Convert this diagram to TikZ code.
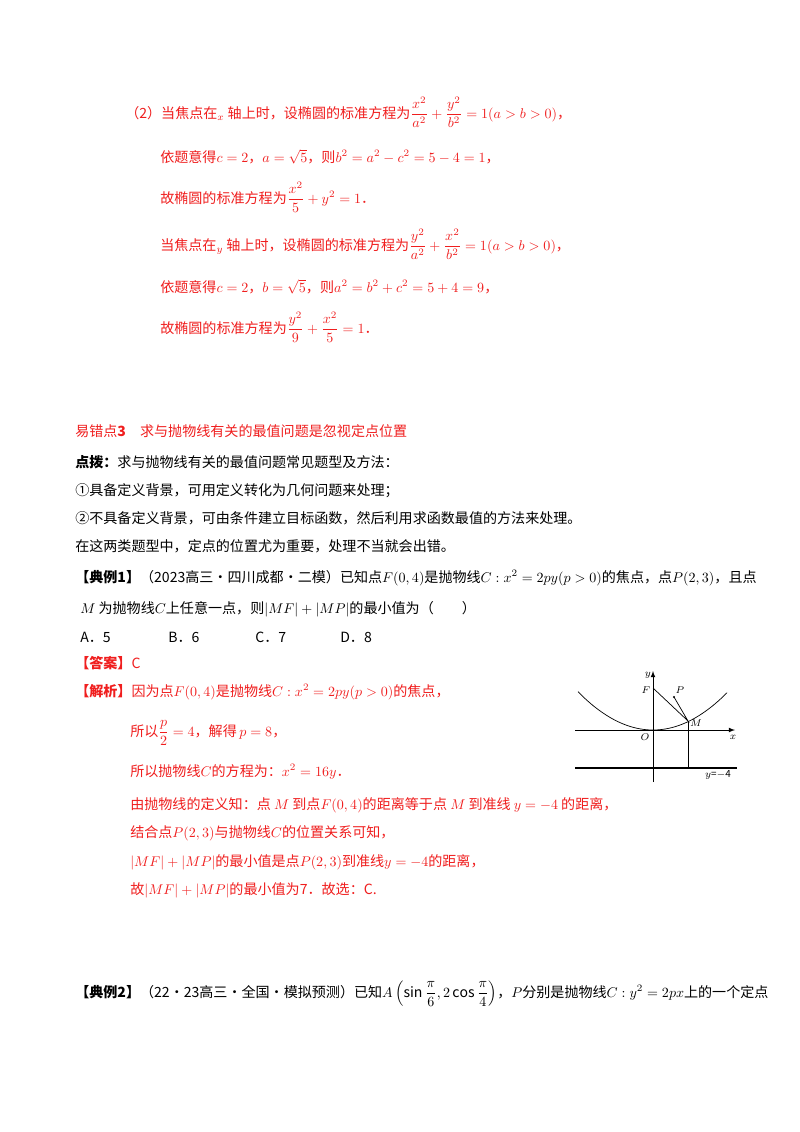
\documentclass[tikz,border=0pt]{standalone}
\usepackage{amsmath}
\usepackage{fontspec}
\setmainfont{Noto Sans CJK SC}
\definecolor{tred}{RGB}{240,30,30}
\begin{document}
\begin{tikzpicture}[x=0.025cm,y=-0.025cm,
  tl/.style={anchor=base west,inner sep=0pt,font=\fontsize{10}{12}\selectfont},
  rl/.style={tl,text=tred},
  fl/.style={font=\fontsize{7}{8}\selectfont,inner sep=0pt}]
\useasboundingbox (0,0) rectangle (800,1132);
\fill[white] (0,0) rectangle (800,1132);
\node[rl] (l1) at (125,118) {（2）当焦点在$_{x}$ 轴上时，设椭圆的标准方程为$\dfrac{x^2}{a^2}+\dfrac{y^2}{b^2}=1(a>b>0)$，};
\node[rl] (l2) at (160,162) {依题意得$c=2$，$a=\sqrt5$，则$b^2=a^2-c^2=5-4=1$，};
\node[rl] (l3) at (160,203) {故椭圆的标准方程为$\dfrac{x^2}{5}+y^2=1$．};
\node[rl] (l4) at (160,250) {当焦点在$_{y}$ 轴上时，设椭圆的标准方程为$\dfrac{y^2}{a^2}+\dfrac{x^2}{b^2}=1(a>b>0)$，};
\node[rl] (l5) at (160,292) {依题意得$c=2$，$b=\sqrt5$，则$a^2=b^2+c^2=5+4=9$，};
\node[rl] (l6) at (160,333) {故椭圆的标准方程为$\dfrac{y^2}{9}+\dfrac{x^2}{5}=1$．};
\node[rl] (h3) at (75,436) {易错点\textbf{3}\quad 求与抛物线有关的最值问题是忽视定点位置};
\node[tl] (d1) at (75,467) {\textbf{点拨：}求与抛物线有关的最值问题常见题型及方法：};
\node[tl] (d2) at (75,495) {①具备定义背景，可用定义转化为几何问题来处理；};
\node[tl] (d3) at (75,523) {②不具备定义背景，可由条件建立目标函数，然后利用求函数最值的方法来处理。};
\node[tl] (d4) at (75,551) {在这两类题型中，定点的位置尤为重要，处理不当就会出错。};
\node[tl] (e1) at (75,582) {\textbf{【典例1】}（2023高三·四川成都·二模）已知点$F(0,4)$是抛物线$C:x^2=2py(p>0)$的焦点，点$P(2,3)$，且点};
\node[tl] (e2) at (80,613) {$M$ 为抛物线$C$上任意一点，则$|MF|+|MP|$的最小值为（\qquad）};
\node[tl] (oa) at (80,642) {A．5};
\node[tl] (ob) at (168,642) {B．6};
\node[tl] (oc) at (255,642) {C．7};
\node[tl] (od) at (340,642) {D．8};
\node[rl] (ans) at (75,668) {\textbf{【答案】}C};
\node[rl] (s1) at (75,696) {\textbf{【解析】}因为点$F(0,4)$是抛物线$C:x^2=2py(p>0)$的焦点，};
\node[rl] (s2) at (130,736) {所以$\dfrac{p}{2}=4$，解得$_{\,}p=8$，};
\node[rl] (s3) at (130,776) {所以抛物线$C$的方程为：$x^2=16y$．};
\node[rl] (s4) at (130,809) {由抛物线的定义知：点 $M$ 到点$F(0,4)$的距离等于点 $M$ 到准线 $y=-4$ 的距离，};
\node[rl] (s5) at (130,837) {结合点$P(2,3)$与抛物线$C$的位置关系可知，};
\node[rl] (s6) at (130,866) {$|MF|+|MP|$的最小值是点$P(2,3)$到准线$y=-4$的距离，};
\node[rl] (s7) at (130,894) {故$|MF|+|MP|$的最小值为7．故选：C.};
\node[tl] (e3) at (75,997) {\textbf{【典例2】}（22·23高三·全国·模拟预测）已知$A\left(\sin\dfrac{\pi}{6},2\cos\dfrac{\pi}{4}\right)$，$P$分别是抛物线$C:y^2=2px$上的一个定点};
% figure
\begin{scope}[line width=0.5pt]
\coordinate (O) at (653,730);
\coordinate (F) at (653,688);
\coordinate (P) at (674,697);
\coordinate (M) at (688,721);
\coordinate (D) at (688,768);
\coordinate (xe) at (735,730);
\coordinate (xs) at (575,730);
\coordinate (ye) at (653,671);
\coordinate (ys) at (653,782);
\draw[-latex] (xs) -- (xe);
\draw[-latex] (ys) -- (ye);
\draw[line width=0.8pt] (575,768) -- (737,768);
\draw[domain=578:727,samples=60] plot (\x,{730-0.0068*(\x-653)*(\x-653)});
\draw (F) -- (M) -- (P);
\draw[line width=0.7pt] (M) -- (D);
\fill (P) circle (1.2);
\node[fl] (ly) at (648,675) {$y$};
\node[fl] (lF) at (646,690) {$F$};
\node[fl] (lP) at (680,690) {$P$};
\node[fl] (lM) at (696,723) {$M$};
\node[fl] (lO) at (645,737) {$O$};
\node[fl] (lx) at (733,737) {$x$};
\node[fl] (ld) at (718,775) {$y$=$-$4};
\end{scope}
\end{tikzpicture}
\end{document}
